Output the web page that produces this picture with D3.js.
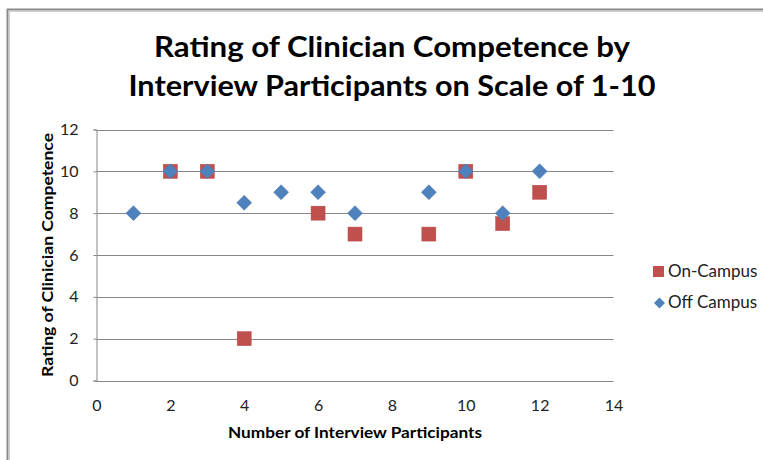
<!DOCTYPE html>
<html><head><meta charset="utf-8">
<script src="https://cdn.jsdelivr.net/npm/d3@7"></script>
<style>body{margin:0;background:#fff}svg{display:block}text{font-family:Lato,"Open Sans",sans-serif}</style>
</head><body>
<script>
const titleLines = ["Rating of Clinician Competence by", "Interview Participants on Scale of 1-10"];
const xLabel = "Number of Interview Participants";
const yLabel = "Rating of Clinician Competence";
const seriesNames = ["On-Campus", "Off Campus"];
const onCampusX = [2, 3, 4, 6, 7, 9, 10, 11, 12];
const onCampusY = [10, 10, 2, 8, 7, 7, 10, 7.5, 9];
const offCampusX = [1, 2, 3, 4, 5, 6, 7, 9, 10, 11, 12];
const offCampusY = [8, 10, 10, 8.5, 9, 9, 8, 9, 10, 8, 10];
const xTicks = [0, 2, 4, 6, 8, 10, 12, 14];
const yTicks = [0, 2, 4, 6, 8, 10, 12];

const W = 763, H = 460;
const svg = d3.select("body").append("svg").attr("width", W).attr("height", H);
svg.append("rect").attr("width", W).attr("height", H).attr("fill", "#fff");
// outer border
svg.append("path").attr("d", `M7.5,${H+5} V9.5 H${W+5}`).attr("fill", "none").attr("stroke", "#8a8a8a").attr("stroke-width", 2);
svg.append("path").attr("d", `M9.5,${H+5} V11.5 H${W+5}`).attr("fill", "none").attr("stroke", "#d0d0d0").attr("stroke-width", 1);

const x = d3.scaleLinear().domain([0, 14]).range([96.5, 613.5]);
const y = d3.scaleLinear().domain([0, 12]).range([380.5, 129.5]);

// gridlines
svg.append("g").selectAll("line").data(yTicks).join("line")
  .attr("x1", x(0)).attr("x2", x(14))
  .attr("y1", d => Math.round(y(d)) + 0.5).attr("y2", d => Math.round(y(d)) + 0.5)
  .attr("stroke", "#868686").attr("stroke-width", 1);

// y axis
const yAxis = svg.append("g").attr("transform", `translate(${x(0)},0)`)
  .call(d3.axisLeft(y).tickValues(yTicks).tickSize(3).tickPadding(15).tickFormat(d3.format("d")));
yAxis.select(".domain").attr("stroke", "#868686");
yAxis.selectAll(".tick line").attr("stroke", "#868686");
yAxis.selectAll("text").attr("font-size", 16).attr("fill", "#222").attr("font-family", "Lato, sans-serif");

// x axis
const xAxis = svg.append("g").attr("transform", `translate(0,${y(0)})`)
  .call(d3.axisBottom(x).tickValues(xTicks).tickSize(0).tickPadding(19).tickFormat(d3.format("d")));
xAxis.select(".domain").remove();
xAxis.selectAll("text").attr("font-size", 16).attr("fill", "#222").attr("font-family", "Lato, sans-serif");

// markers
const onData = onCampusX.map((v, i) => [v, onCampusY[i]]);
const offData = offCampusX.map((v, i) => [v, offCampusY[i]]);
const sq = 14;
svg.append("g").selectAll("rect").data(onData).join("rect")
  .attr("x", d => x(d[0]) - sq/2).attr("y", d => y(d[1]) - sq/2)
  .attr("width", sq).attr("height", sq)
  .attr("fill", "#C0504D").attr("stroke", "#b8474a").attr("stroke-width", 0.5);
const dm = 7.5;
const diamond = d => `M${x(d[0])},${y(d[1]) - dm} L${x(d[0]) + dm},${y(d[1])} L${x(d[0])},${y(d[1]) + dm} L${x(d[0]) - dm},${y(d[1])} Z`;
svg.append("g").selectAll("path").data(offData).join("path")
  .attr("d", diamond).attr("fill", "#4F81BD").attr("stroke", "#4a7ab5").attr("stroke-width", 0.5);

// title
svg.append("g").selectAll("text").data(titleLines).join("text")
  .attr("x", 392).attr("y", (d, i) => 57 + i * 39)
  .attr("text-anchor", "middle").attr("font-size", 29).attr("font-weight", "bold").attr("fill", "#000")
  .attr("textLength", (d, i) => i === 0 ? 476 : 527).attr("lengthAdjust", "spacingAndGlyphs")
  .text(d => d);

// axis titles
svg.append("text").attr("x", 355).attr("y", 438).attr("text-anchor", "middle")
  .attr("font-size", 16).attr("font-weight", "bold").attr("fill", "#000")
  .attr("textLength", 254).attr("lengthAdjust", "spacingAndGlyphs").text(xLabel);
svg.append("text").attr("transform", "translate(53,255) rotate(-90)").attr("text-anchor", "middle")
  .attr("font-size", 16).attr("font-weight", "bold").attr("fill", "#000")
  .attr("textLength", 244).attr("lengthAdjust", "spacingAndGlyphs").text(yLabel);

// legend
const lg = svg.append("g");
lg.append("rect").attr("x", 653).attr("y", 266).attr("width", 11).attr("height", 11).attr("fill", "#C0504D");
lg.append("text").attr("x", 668).attr("y", 277).attr("font-size", 17).attr("fill", "#222").text(seriesNames[0]);
lg.append("path").attr("d", "M659.5,297.5 L665,303 L659.5,308.5 L654,303 Z").attr("fill", "#4F81BD");
lg.append("text").attr("x", 668).attr("y", 308).attr("font-size", 17).attr("fill", "#222").text(seriesNames[1]);
</script>
</body></html>
